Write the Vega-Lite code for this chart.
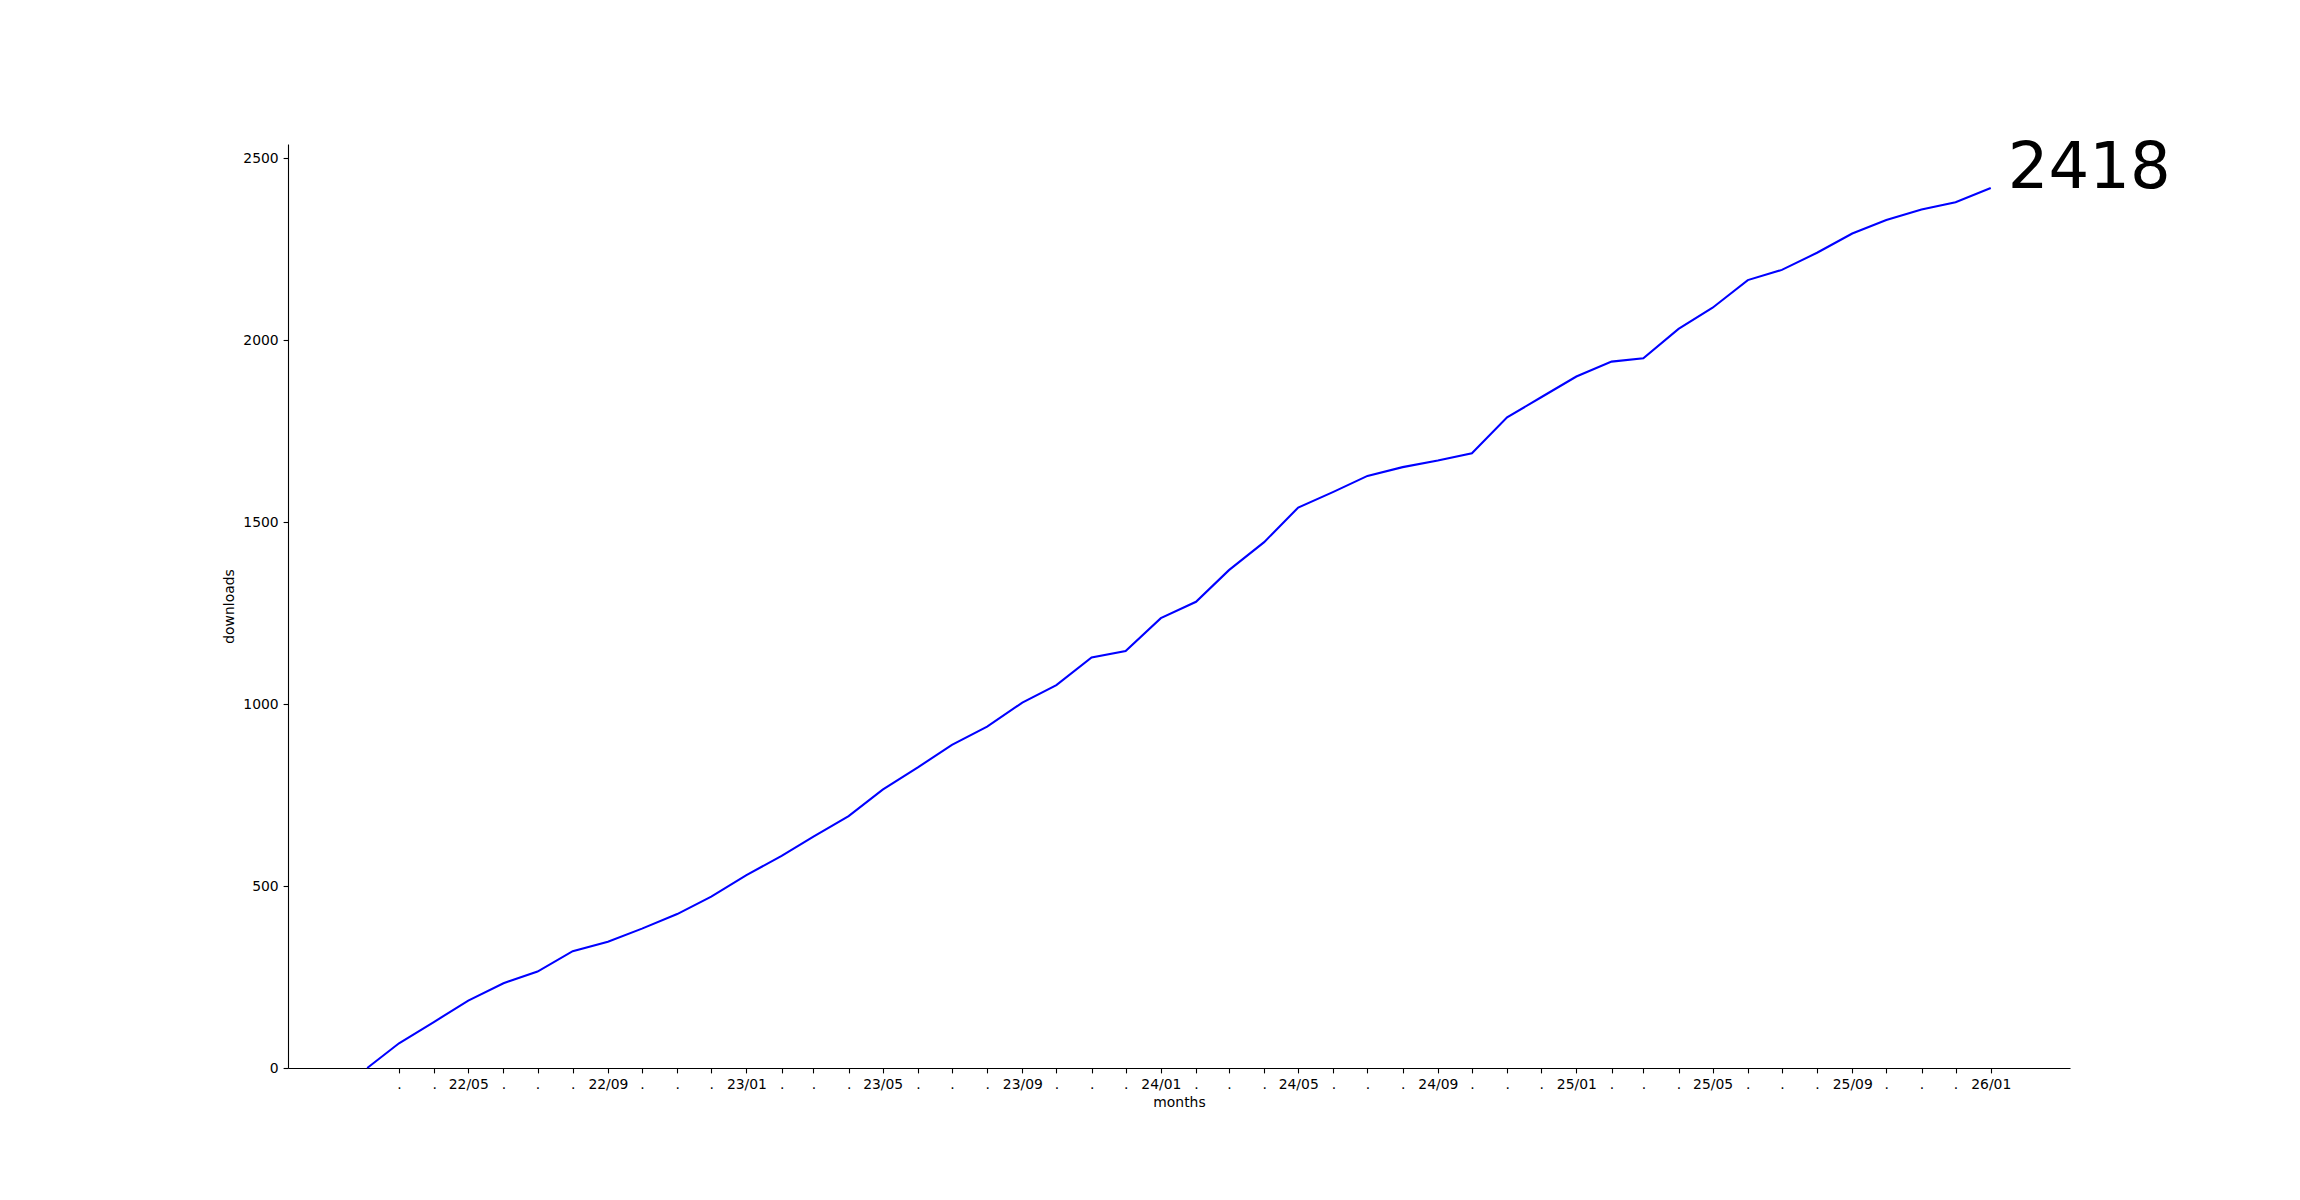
{
  "$schema": "https://vega.github.io/schema/vega-lite/v6.json",
  "width": 1782,
  "height": 924,
  "autosize": {"type": "none"},
  "padding": {"left": 288, "top": 144, "right": 230, "bottom": 132},
  "background": "white",
  "config": {
    "view": {"stroke": null},
    "font": "DejaVu Sans",
    "axis": {
      "labelFont": "DejaVu Sans",
      "titleFont": "DejaVu Sans",
      "labelFontSize": 13.9,
      "titleFontSize": 13.9,
      "titleFontWeight": "normal",
      "labelColor": "black",
      "titleColor": "black",
      "domainColor": "black",
      "tickColor": "black",
      "domainWidth": 1.1,
      "tickWidth": 1.1,
      "tickSize": 4.9,
      "labelPadding": 4.9,
      "grid": false,
      "labelOverlap": false,
      "labelFlush": false
    }
  },
  "data": {
    "values": [
      {"date": "2022-02-01", "downloads": 0},
      {"date": "2022-03-01", "downloads": 68},
      {"date": "2022-04-01", "downloads": 127},
      {"date": "2022-05-01", "downloads": 185},
      {"date": "2022-06-01", "downloads": 233},
      {"date": "2022-07-01", "downloads": 265},
      {"date": "2022-08-01", "downloads": 321},
      {"date": "2022-09-01", "downloads": 347},
      {"date": "2022-10-01", "downloads": 383},
      {"date": "2022-11-01", "downloads": 423},
      {"date": "2022-12-01", "downloads": 471},
      {"date": "2023-01-01", "downloads": 530},
      {"date": "2023-02-01", "downloads": 583},
      {"date": "2023-03-01", "downloads": 636},
      {"date": "2023-04-01", "downloads": 692},
      {"date": "2023-05-01", "downloads": 765},
      {"date": "2023-06-01", "downloads": 826},
      {"date": "2023-07-01", "downloads": 888},
      {"date": "2023-08-01", "downloads": 938},
      {"date": "2023-09-01", "downloads": 1004},
      {"date": "2023-10-01", "downloads": 1052},
      {"date": "2023-11-01", "downloads": 1128},
      {"date": "2023-12-01", "downloads": 1146},
      {"date": "2024-01-01", "downloads": 1236},
      {"date": "2024-02-01", "downloads": 1281},
      {"date": "2024-03-01", "downloads": 1368},
      {"date": "2024-04-01", "downloads": 1445},
      {"date": "2024-05-01", "downloads": 1540},
      {"date": "2024-06-01", "downloads": 1583},
      {"date": "2024-07-01", "downloads": 1627},
      {"date": "2024-08-01", "downloads": 1651},
      {"date": "2024-09-01", "downloads": 1669},
      {"date": "2024-10-01", "downloads": 1689},
      {"date": "2024-11-01", "downloads": 1788},
      {"date": "2024-12-01", "downloads": 1843},
      {"date": "2025-01-01", "downloads": 1900},
      {"date": "2025-02-01", "downloads": 1941},
      {"date": "2025-03-01", "downloads": 1950},
      {"date": "2025-04-01", "downloads": 2031},
      {"date": "2025-05-01", "downloads": 2089},
      {"date": "2025-06-01", "downloads": 2165},
      {"date": "2025-07-01", "downloads": 2193},
      {"date": "2025-08-01", "downloads": 2240},
      {"date": "2025-09-01", "downloads": 2293},
      {"date": "2025-10-01", "downloads": 2330},
      {"date": "2025-11-01", "downloads": 2359},
      {"date": "2025-12-01", "downloads": 2379},
      {"date": "2026-01-01", "downloads": 2418}
    ]
  },
  "encoding": {
    "x": {
      "field": "date",
      "type": "temporal",
      "scale": {
        "type": "utc",
        "nice": false,
        "domain": [
          {"year": 2021, "month": 11, "date": 23, "hours": 5, "utc": true},
          {"year": 2026, "month": 3, "date": 11, "hours": 19, "utc": true}
        ]
      },
      "axis": {
        "title": "months",
        "titlePadding": 4,
        "labelAngle": 0,
        "values": [
          {"year": 2022, "month": 3, "date": 1, "utc": true},
          {"year": 2022, "month": 4, "date": 1, "utc": true},
          {"year": 2022, "month": 5, "date": 1, "utc": true},
          {"year": 2022, "month": 6, "date": 1, "utc": true},
          {"year": 2022, "month": 7, "date": 1, "utc": true},
          {"year": 2022, "month": 8, "date": 1, "utc": true},
          {"year": 2022, "month": 9, "date": 1, "utc": true},
          {"year": 2022, "month": 10, "date": 1, "utc": true},
          {"year": 2022, "month": 11, "date": 1, "utc": true},
          {"year": 2022, "month": 12, "date": 1, "utc": true},
          {"year": 2023, "month": 1, "date": 1, "utc": true},
          {"year": 2023, "month": 2, "date": 1, "utc": true},
          {"year": 2023, "month": 3, "date": 1, "utc": true},
          {"year": 2023, "month": 4, "date": 1, "utc": true},
          {"year": 2023, "month": 5, "date": 1, "utc": true},
          {"year": 2023, "month": 6, "date": 1, "utc": true},
          {"year": 2023, "month": 7, "date": 1, "utc": true},
          {"year": 2023, "month": 8, "date": 1, "utc": true},
          {"year": 2023, "month": 9, "date": 1, "utc": true},
          {"year": 2023, "month": 10, "date": 1, "utc": true},
          {"year": 2023, "month": 11, "date": 1, "utc": true},
          {"year": 2023, "month": 12, "date": 1, "utc": true},
          {"year": 2024, "month": 1, "date": 1, "utc": true},
          {"year": 2024, "month": 2, "date": 1, "utc": true},
          {"year": 2024, "month": 3, "date": 1, "utc": true},
          {"year": 2024, "month": 4, "date": 1, "utc": true},
          {"year": 2024, "month": 5, "date": 1, "utc": true},
          {"year": 2024, "month": 6, "date": 1, "utc": true},
          {"year": 2024, "month": 7, "date": 1, "utc": true},
          {"year": 2024, "month": 8, "date": 1, "utc": true},
          {"year": 2024, "month": 9, "date": 1, "utc": true},
          {"year": 2024, "month": 10, "date": 1, "utc": true},
          {"year": 2024, "month": 11, "date": 1, "utc": true},
          {"year": 2024, "month": 12, "date": 1, "utc": true},
          {"year": 2025, "month": 1, "date": 1, "utc": true},
          {"year": 2025, "month": 2, "date": 1, "utc": true},
          {"year": 2025, "month": 3, "date": 1, "utc": true},
          {"year": 2025, "month": 4, "date": 1, "utc": true},
          {"year": 2025, "month": 5, "date": 1, "utc": true},
          {"year": 2025, "month": 6, "date": 1, "utc": true},
          {"year": 2025, "month": 7, "date": 1, "utc": true},
          {"year": 2025, "month": 8, "date": 1, "utc": true},
          {"year": 2025, "month": 9, "date": 1, "utc": true},
          {"year": 2025, "month": 10, "date": 1, "utc": true},
          {"year": 2025, "month": 11, "date": 1, "utc": true},
          {"year": 2025, "month": 12, "date": 1, "utc": true},
          {"year": 2026, "month": 1, "date": 1, "utc": true}
        ],
        "labelExpr": "utcmonth(datum.value) % 4 == 0 ? utcFormat(datum.value, '%y/%m') : '.'"
      }
    },
    "y": {
      "field": "downloads",
      "type": "quantitative",
      "scale": {"domain": [0, 2538.9], "nice": false, "zero": true},
      "axis": {
        "title": "downloads",
        "titlePadding": 6,
        "format": "d",
        "values": [0, 500, 1000, 1500, 2000, 2500]
      }
    }
  },
  "layer": [
    {
      "mark": {"type": "line", "color": "#0000ff", "strokeWidth": 2.08}
    },
    {
      "transform": [{"filter": "datum.downloads == 2418"}],
      "mark": {
        "type": "text",
        "align": "left",
        "baseline": "alphabetic",
        "dx": 17,
        "fontSize": 64,
        "font": "DejaVu Sans",
        "color": "black"
      },
      "encoding": {
        "text": {"field": "downloads", "type": "quantitative"}
      }
    }
  ]
}
